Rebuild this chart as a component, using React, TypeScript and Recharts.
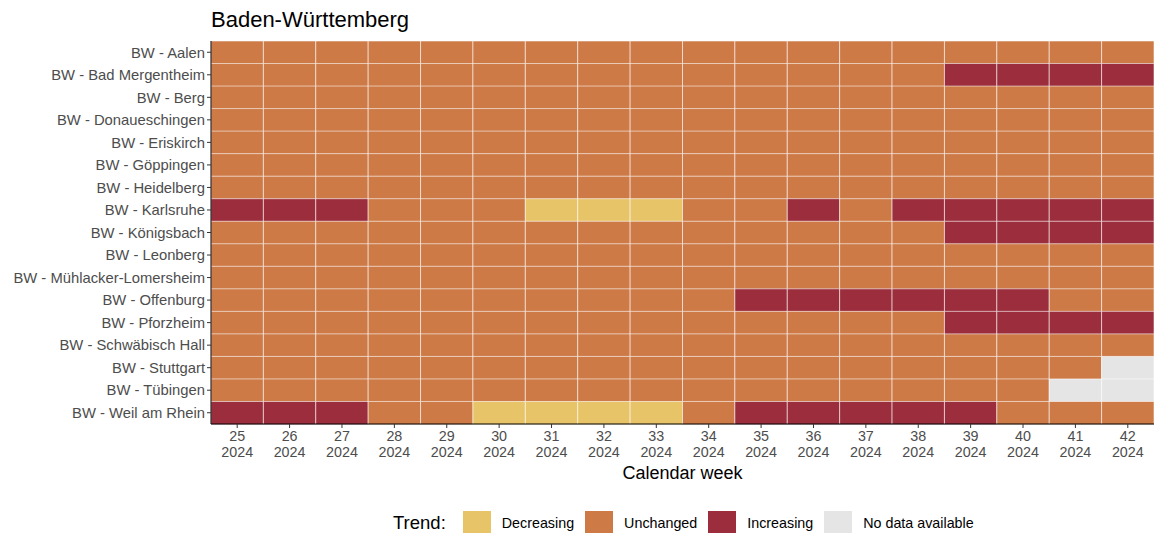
import { Bar, BarChart, Cell, Label, XAxis, YAxis } from "recharts";

const sites = [
  "BW - Aalen",
  "BW - Bad Mergentheim",
  "BW - Berg",
  "BW - Donaueschingen",
  "BW - Eriskirch",
  "BW - Göppingen",
  "BW - Heidelberg",
  "BW - Karlsruhe",
  "BW - Königsbach",
  "BW - Leonberg",
  "BW - Mühlacker-Lomersheim",
  "BW - Offenburg",
  "BW - Pforzheim",
  "BW - Schwäbisch Hall",
  "BW - Stuttgart",
  "BW - Tübingen",
  "BW - Weil am Rhein",
];

const weeks = [25, 26, 27, 28, 29, 30, 31, 32, 33, 34, 35, 36, 37, 38, 39, 40, 41, 42];
const year = "2024";

// one letter per week: D = decreasing, U = unchanged, I = increasing, N = no data
const trendRows = [
  "UUUUUUUUUUUUUUUUUU",
  "UUUUUUUUUUUUUUIIII",
  "UUUUUUUUUUUUUUUUUU",
  "UUUUUUUUUUUUUUUUUU",
  "UUUUUUUUUUUUUUUUUU",
  "UUUUUUUUUUUUUUUUUU",
  "UUUUUUUUUUUUUUUUUU",
  "IIIUUUDDDUUIUIIIII",
  "UUUUUUUUUUUUUUIIII",
  "UUUUUUUUUUUUUUUUUU",
  "UUUUUUUUUUUUUUUUUU",
  "UUUUUUUUUUIIIIIIUU",
  "UUUUUUUUUUUUUUIIII",
  "UUUUUUUUUUUUUUUUUU",
  "UUUUUUUUUUUUUUUUUN",
  "UUUUUUUUUUUUUUUUNN",
  "IIIUUDDDDUIIIIIUUU",
];

const legendItems = [
  { code: "D", label: "Decreasing" },
  { code: "U", label: "Unchanged" },
  { code: "I", label: "Increasing" },
  { code: "N", label: "No data available" },
];

const colors: Record<string, string> = {
  D: "#E8C468",
  U: "#CD7A47",
  I: "#9B2D3C",
  N: "#E5E5E5",
};

const font = "'Liberation Sans', Arial, sans-serif";

const data = sites.map((site) => {
  const row: Record<string, any> = { site };
  weeks.forEach((w) => {
    row[`w${w}`] = 1;
  });
  return row;
});

const WeekTick = (props: any) => {
  const { x, y, payload } = props;
  const week = weeks[Math.floor(payload.value)];
  return (
    <g>
      <text x={x} y={y + 11} textAnchor="middle" fill="#4D4D4D" fontSize={14.3} fontFamily={font}>
        {week}
      </text>
      <text x={x} y={y + 27} textAnchor="middle" fill="#4D4D4D" fontSize={14.3} fontFamily={font}>
        {year}
      </text>
    </g>
  );
};

const App = () => {
  return (
    <div style={{ position: "absolute", left: 0, top: 0, width: 1154, height: 533, fontFamily: font }}>
      <div style={{ position: "absolute", left: 211, top: 7, fontSize: 22, color: "#000", lineHeight: "26px" }}>
        Baden-Württemberg
      </div>
      <BarChart
        width={1154}
        height={533}
        data={data}
        layout="vertical"
        barCategoryGap={0}
        margin={{ top: 41, right: 0, left: 0, bottom: 53 }}
      >
        <XAxis
          type="number"
          domain={[0, 18]}
          ticks={weeks.map((_, i) => i + 0.5)}
          interval={0}
          tick={<WeekTick />}
          tickSize={4}
          tickLine={{ stroke: "#333333" }}
          axisLine={{ stroke: "#000000" }}
          height={56}
          allowDataOverflow
        >
          <Label
            value="Calendar week"
            position="insideBottom"
            offset={1}
            fill="#000000"
            fontSize={18}
            fontFamily={font}
          />
        </XAxis>
        <YAxis
          type="category"
          dataKey="site"
          width={211}
          interval={0}
          tickSize={4}
          tickLine={{ stroke: "#333333" }}
          axisLine={{ stroke: "#000000" }}
          tick={{ fill: "#4D4D4D", fontSize: 14.8, fontFamily: font }}
        />
        {weeks.map((w, j) => (
          <Bar
            key={w}
            dataKey={`w${w}`}
            stackId="tiles"
            isAnimationActive={false}
            stroke="rgba(255,255,255,0.55)"
            strokeWidth={1}
          >
            {data.map((_, i) => (
              <Cell key={i} fill={colors[trendRows[i][j]]} />
            ))}
          </Bar>
        ))}
      </BarChart>
      <div
        style={{
          position: "absolute",
          left: 393,
          top: 511,
          display: "flex",
          alignItems: "center",
          fontSize: 14.3,
          color: "#000",
        }}
      >
        <span style={{ fontSize: 18.5, marginRight: 17 }}>Trend:</span>
        {legendItems.map((item) => (
          <span key={item.code} style={{ display: "flex", alignItems: "center", marginRight: 11 }}>
            <span
              style={{
                display: "inline-block",
                width: 28,
                height: 23,
                background: colors[item.code],
                marginRight: 11,
              }}
            />
            {item.label}
          </span>
        ))}
      </div>
    </div>
  );
};

export default App;
